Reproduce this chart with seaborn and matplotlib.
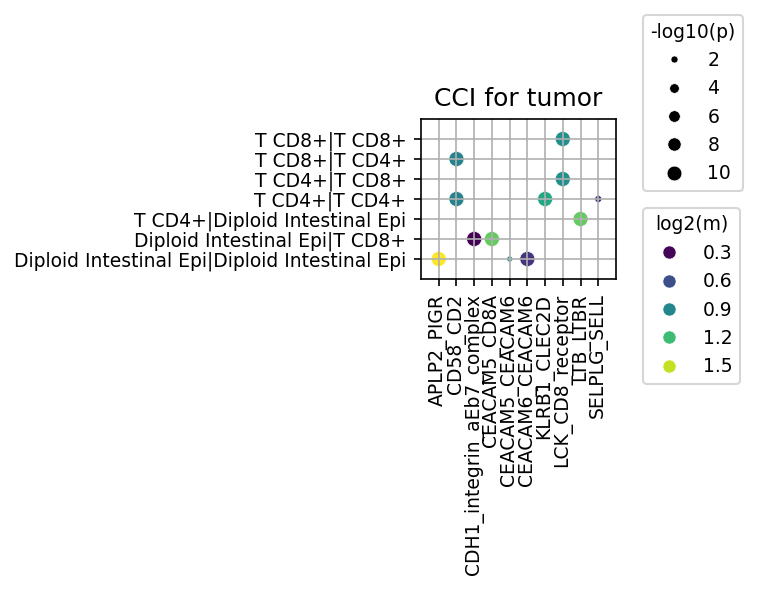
import matplotlib
matplotlib.use("Agg")
import matplotlib.pyplot as plt
from matplotlib.lines import Line2D
import numpy as np
import pandas as pd
import seaborn as sns

# ---- data ----
interactions = ["APLP2_PIGR", "CD58_CD2", "CDH1_integrin_aEb7_complex",
                "CEACAM5_CD8A", "CEACAM5_CEACAM6", "CEACAM6_CEACAM6",
                "KLRB1_CLEC2D", "LCK_CD8_receptor", "LTB_LTBR", "SELPLG_SELL"]
# bottom -> top
pairs = ["Diploid Intestinal Epi|Diploid Intestinal Epi",
         "Diploid Intestinal Epi|T CD8+",
         "T CD4+|Diploid Intestinal Epi",
         "T CD4+|T CD4+",
         "T CD4+|T CD8+",
         "T CD8+|T CD4+",
         "T CD8+|T CD8+"]

point_interaction = ["APLP2_PIGR", "CD58_CD2", "CD58_CD2",
                     "CDH1_integrin_aEb7_complex", "CEACAM5_CD8A",
                     "CEACAM5_CEACAM6", "CEACAM6_CEACAM6", "KLRB1_CLEC2D",
                     "LCK_CD8_receptor", "LCK_CD8_receptor", "LTB_LTBR",
                     "SELPLG_SELL"]
point_pair = ["Diploid Intestinal Epi|Diploid Intestinal Epi",
              "T CD8+|T CD4+",
              "T CD4+|T CD4+",
              "Diploid Intestinal Epi|T CD8+",
              "Diploid Intestinal Epi|T CD8+",
              "Diploid Intestinal Epi|Diploid Intestinal Epi",
              "Diploid Intestinal Epi|Diploid Intestinal Epi",
              "T CD4+|T CD4+",
              "T CD8+|T CD8+",
              "T CD4+|T CD8+",
              "T CD4+|Diploid Intestinal Epi",
              "T CD4+|T CD4+"]
log2_m = [1.62, 0.88, 0.88, 0.28, 1.30, 0.90, 0.48, 1.08, 0.95, 0.95, 1.30, 0.44]
neg_log10_p = [10.3, 10.4, 10.4, 10.4, 10.4, 1.3, 10.4, 10.4, 10.4, 10.4, 10.4, 2.0]

# legend levels shown for the colour scale
hue_legend_levels = [0.3, 0.6, 0.9, 1.2, 1.5]

df = pd.DataFrame({
    "interaction": pd.Categorical(point_interaction, categories=interactions),
    "pair": pd.Categorical(point_pair, categories=pairs),
    "log2(m)": log2_m,
    "-log10(p)": neg_log10_p,
})

plt.rcParams["font.size"] = 9

fig = plt.figure(figsize=(759 / 150, 591 / 150), dpi=150)
ax = fig.add_axes([421 / 759, 1 - 279 / 591, 195 / 759, 160 / 591])

sns.scatterplot(data=df, x="interaction", y="pair", hue="log2(m)",
                size="-log10(p)", palette="viridis", sizes=(8, 52),
                ax=ax, legend="brief")

ax.set_xlim(-1, len(interactions))
ax.set_ylim(-1, len(pairs))
ax.grid(True)
ax.set_xlabel("")
ax.set_ylabel("")
ax.set_title("CCI for tumor", fontsize=12)
ax.tick_params(axis="x", labelrotation=90)

handles, labels = ax.get_legend_handles_labels()
ax.get_legend().remove()
i_hue = labels.index("log2(m)")
i_size = labels.index("-log10(p)")
hue_template = handles[i_hue + 1]
size_h, size_l = handles[i_size + 1:], labels[i_size + 1:]
for h in size_h:
    h.set_markerfacecolor("k")
    h.set_color("k")

cmap = plt.get_cmap("viridis")
norm = plt.Normalize(min(log2_m), max(log2_m))
hue_h = []
for v in hue_legend_levels:
    c = cmap(norm(v))
    hue_h.append(Line2D([], [], linestyle="", marker="o", markersize=6.3,
                        markerfacecolor=c, color=c,
                        markeredgecolor=hue_template.get_markeredgecolor(),
                        markeredgewidth=hue_template.get_markeredgewidth()))
hue_l = [f"{v:.1f}" for v in hue_legend_levels]

fig.legend(size_h, size_l, title="-log10(p)", loc="upper left",
           bbox_to_anchor=(643 / 759, 1 - 15 / 591), borderaxespad=0)
fig.legend(hue_h, hue_l, title="log2(m)", loc="upper left",
           bbox_to_anchor=(643 / 759, 1 - 208 / 591), borderaxespad=0)

fig.savefig("out.png", dpi=150)
